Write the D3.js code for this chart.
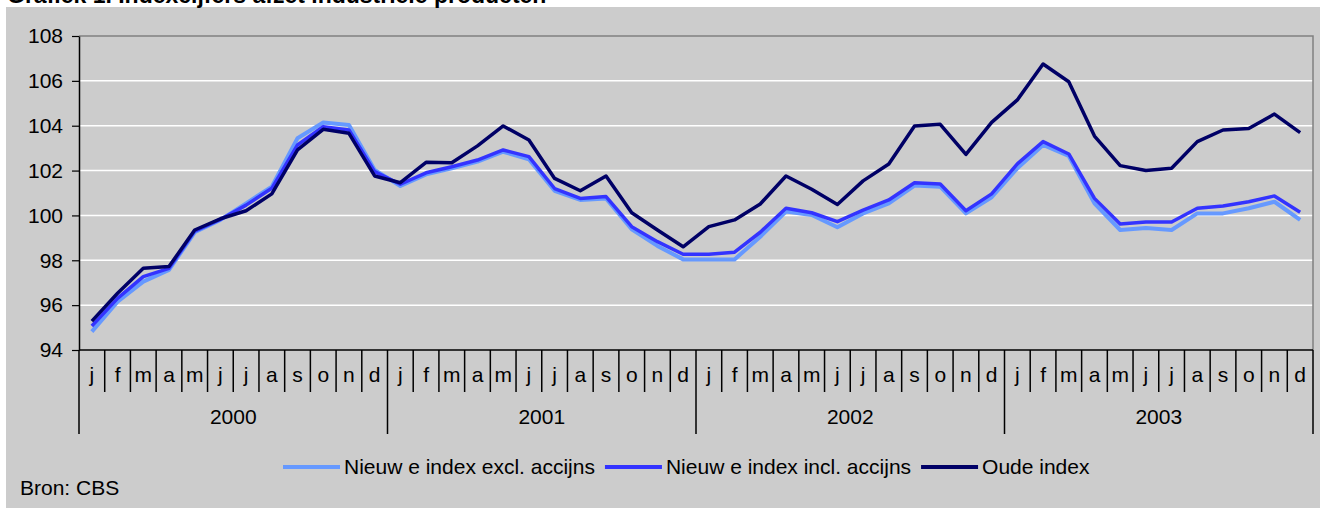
<!DOCTYPE html>
<html>
<head>
<meta charset="utf-8">
<script src="https://cdn.jsdelivr.net/npm/d3@7"></script>
<style>
  body { margin: 0; background: #fff; }
  svg { display: block; font-family: "Liberation Sans", Arial, sans-serif; }
</style>
</head>
<body>
<div id="chart"></div>
<script>
// data
const years = ["2000", "2001", "2002", "2003"];
const months = ["j", "f", "m", "a", "m", "j", "j", "a", "s", "o", "n", "d"];
const yTicks = [94, 96, 98, 100, 102, 104, 106, 108];

const seriesNames = ["Nieuw e index excl. accijns", "Nieuw e index incl. accijns", "Oude index"];

const exclAccijns = [
  94.82, 96.15, 97.05, 97.57, 99.25, 99.80, 100.54, 101.28, 103.44, 104.14, 104.03, 102.03,
  101.31, 101.83, 102.10, 102.40, 102.84, 102.50, 101.10, 100.69, 100.76, 99.38, 98.64, 98.04,
  98.04, 98.04, 99.05, 100.17, 100.02, 99.47, 100.09, 100.54, 101.33, 101.28, 100.09, 100.81,
  102.10, 103.14, 102.65, 100.54, 99.35, 99.44, 99.35, 100.09, 100.09, 100.32, 100.61, 99.80
];
const inclAccijns = [
  95.07, 96.30, 97.27, 97.64, 99.30, 99.82, 100.46, 101.21, 103.14, 103.96, 103.81, 101.95,
  101.39, 101.90, 102.17, 102.47, 102.92, 102.62, 101.20, 100.76, 100.84, 99.50, 98.83, 98.27,
  98.27, 98.36, 99.25, 100.32, 100.12, 99.72, 100.24, 100.69, 101.46, 101.40, 100.21, 100.96,
  102.30, 103.29, 102.74, 100.76, 99.62, 99.71, 99.71, 100.32, 100.42, 100.61, 100.87, 100.14
];
const oudeIndex = [
  95.29, 96.53, 97.64, 97.72, 99.35, 99.85, 100.21, 100.96, 102.92, 103.84, 103.66, 101.76,
  101.46, 102.37, 102.35, 103.10, 103.99, 103.36, 101.65, 101.10, 101.76, 100.12, 99.35, 98.60,
  99.50, 99.80, 100.51, 101.76, 101.17, 100.49, 101.54, 102.29, 103.99, 104.06, 102.72, 104.15,
  105.15, 106.75, 105.96, 103.54, 102.22, 102.00, 102.10, 103.29, 103.81, 103.88, 104.52, 103.69
];

const W = 1320, H = 508;
const pLeft = 79, pRight = 1313, pTop = 36, pBottom = 350;
const fs = "21px";

const svg = d3.select("#chart").append("svg")
  .attr("width", W).attr("height", H);

// gray background of the whole chart
svg.append("rect")
  .attr("x", 6).attr("y", 7)
  .attr("width", W - 6).attr("height", H - 7)
  .attr("fill", "#cccccc");

// title, mostly cut off at the top (same as the original)
svg.append("text")
  .attr("x", 7).attr("y", 3)
  .style("font-size", "23px")
  .style("font-weight", "bold")
  .text("Grafiek 1. Indexcijfers afzet industriële producten");

// scales
const nMonths = years.length * months.length;
const x = d3.scaleBand()
  .domain(d3.range(nMonths))
  .range([pLeft, pRight])
  .padding(0);
const xMid = i => x(i) + x.bandwidth() / 2;

const y = d3.scaleLinear()
  .domain([94, 108])
  .range([pBottom, pTop]);

// white gridlines
svg.append("g")
  .selectAll("line")
  .data(yTicks.filter(d => d > 94 && d < 108))
  .enter().append("line")
  .attr("x1", pLeft).attr("x2", pRight)
  .attr("y1", d => y(d)).attr("y2", d => y(d))
  .attr("stroke", "#ffffff")
  .attr("stroke-width", 1.5);

// plot border top + right
svg.append("path")
  .attr("d", `M${pLeft},${y(108)}H${pRight}V${pBottom}`)
  .attr("fill", "none")
  .attr("stroke", "#808080")
  .attr("stroke-width", 1.5);

// y axis
const yAxis = d3.axisLeft(y)
  .tickValues(yTicks)
  .tickSize(7)
  .tickPadding(9)
  .tickSizeOuter(0);

const gy = svg.append("g")
  .attr("transform", `translate(${pLeft},0)`)
  .call(yAxis);
gy.select(".domain").attr("stroke", "#000").attr("stroke-width", 1.5);
gy.selectAll(".tick line").attr("stroke", "#000").attr("stroke-width", 1.2);
gy.selectAll(".tick text")
  .attr("fill", "#000")
  .style("font-size", fs)
  .style("font-family", "'Liberation Sans', Arial, sans-serif");

// x axis line
svg.append("line")
  .attr("x1", pLeft).attr("x2", pRight)
  .attr("y1", pBottom).attr("y2", pBottom)
  .attr("stroke", "#000")
  .attr("stroke-width", 1.5);

// month separators (long ones at year boundaries)
const xAxisG = svg.append("g");
xAxisG.selectAll("line")
  .data(d3.range(nMonths + 1))
  .enter().append("line")
  .attr("x1", d => d < nMonths ? x(d) : pRight)
  .attr("x2", d => d < nMonths ? x(d) : pRight)
  .attr("y1", pBottom)
  .attr("y2", d => d % 12 === 0 ? 434 : 392)
  .attr("stroke", "#000")
  .attr("stroke-width", 1.5);

// month labels
xAxisG.selectAll(".month")
  .data(d3.range(nMonths))
  .enter().append("text")
  .attr("class", "month")
  .attr("x", d => xMid(d))
  .attr("y", 382)
  .attr("text-anchor", "middle")
  .style("font-size", fs)
  .text(d => months[d % 12]);

// year labels
xAxisG.selectAll(".year")
  .data(years)
  .enter().append("text")
  .attr("class", "year")
  .attr("x", (d, i) => (x(i * 12) + (i < years.length - 1 ? x(i * 12 + 12) : pRight)) / 2)
  .attr("y", 424)
  .attr("text-anchor", "middle")
  .style("font-size", fs)
  .text(d => d);

// the lines
const colors = ["#6699ff", "#3333ff", "#000066"];
const widths = [4, 3.5, 3.5];
const allSeries = [exclAccijns, inclAccijns, oudeIndex];

const line = d3.line()
  .x((d, i) => xMid(i))
  .y(d => y(d));

svg.append("g")
  .selectAll("path")
  .data(allSeries)
  .enter().append("path")
  .attr("d", d => line(d))
  .attr("fill", "none")
  .attr("stroke", (d, i) => colors[i])
  .attr("stroke-width", (d, i) => widths[i])
  .attr("stroke-linejoin", "round");

// legend, laid out left to right
const legend = svg.append("g");
let lx = 283;
const ly = 467;
seriesNames.forEach((name, i) => {
  legend.append("line")
    .attr("x1", lx).attr("x2", lx + 57)
    .attr("y1", ly).attr("y2", ly)
    .attr("stroke", colors[i])
    .attr("stroke-width", 4);
  const t = legend.append("text")
    .attr("x", lx + 61)
    .attr("y", ly + 7)
    .style("font-size", fs)
    .text(name);
  lx = lx + 61 + t.node().getComputedTextLength() + 10;
});

// source
svg.append("text")
  .attr("x", 20).attr("y", 495)
  .style("font-size", fs)
  .text("Bron: CBS");
</script>
</body>
</html>
